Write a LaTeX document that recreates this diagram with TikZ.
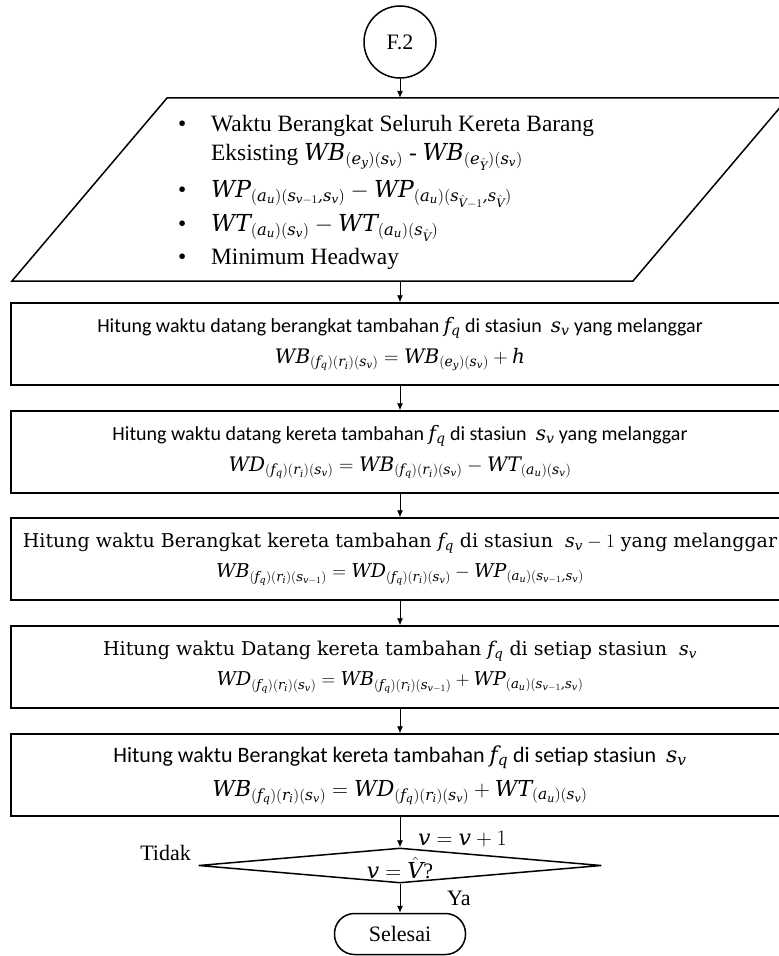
\RequirePackage{fix-cm}
\documentclass[tikz,border=0pt]{standalone}
\usepackage{fontspec}
\setmainfont{Liberation Serif}
\newfontfamily\calibri{Carlito}
\newfontfamily\slabserif{DejaVu Serif}
% italic math letters taken from an OpenType serif
\newfontfamily\mathletterfont{DejaVu Serif}[NFSSFamily=mletters]
\DeclareSymbolFont{letters}{TU}{mletters}{m}{it}
\mathcode`\,="612C
\usetikzlibrary{shapes.geometric,arrows.meta}

\tikzset{
  flow/.style={line width=0.9bp,-{Latex[length=7bp,width=6bp]}},
  edge/.style={line width=1.5bp},
  procbox/.style={draw, edge, minimum width=778bp, minimum height=82bp,
    inner sep=0pt, align=center, font=\calibri\fontsize{20bp}{26bp}\selectfont},
  bigbox/.style={procbox, font=\calibri\fontsize{22bp}{28bp}\selectfont},
  serifbox/.style={procbox, font=\slabserif\fontsize{19bp}{25bp}\selectfont},
  listline/.style={anchor=base west, inner sep=0pt, font=\fontsize{23.4bp}{28bp}\selectfont},
  plain/.style={inner sep=0pt, font=\fontsize{22bp}{26bp}\selectfont}
}

\begin{document}
\begin{tikzpicture}[x=1bp,y=-1bp]
\useasboundingbox (0,0) rectangle (779,956);

% start connector
\node[draw, edge, circle, minimum size=72bp, inner sep=0pt, plain] (start) at (400,42) {F.2};

% input parallelogram
\node[minimum width=776bp, minimum height=183bp, inner sep=0pt] (input) at (400,189.5) {};
\draw[edge] (input.south west) -- ++(621,0) -- (input.north east) -- ++(-621,0) -- cycle;

\node[listline] (l1) at (178,131) {\makebox[33bp][l]{\textbullet}Waktu Berangkat Seluruh Kereta Barang};
\node[listline] (l2) at (211,160) {Eksisting $WB_{(e_y)(s_v)}$ - $WB_{(e_{\hat{Y}})(s_v)}$};
\node[listline] (l3) at (178,197) {\makebox[33bp][l]{\textbullet}$WP_{(a_u)(s_{v-1},s_v)} - WP_{(a_u)(s_{\hat{V}-1},s_{\hat{V}})}$};
\node[listline] (l4) at (178,231) {\makebox[33bp][l]{\textbullet}$WT_{(a_u)(s_v)} - WT_{(a_u)(s_{\hat{V}})}$};
\node[listline] (l5) at (178,264) {\makebox[33bp][l]{\textbullet}Minimum Headway};

% process steps
\node[procbox] (p1) at (400,344) {Hitung waktu datang berangkat tambahan $f_q$ di stasiun\ \ $s_v$ yang melanggar\\[5bp]
  $WB_{(f_q)(r_i)(s_v)} = WB_{(e_y)(s_v)} + h$};
\node[procbox] (p2) at (400,452) {Hitung waktu datang kereta tambahan $f_q$ di stasiun\ \ $s_v$ yang melanggar\\[5bp]
  $WD_{(f_q)(r_i)(s_v)} = WB_{(f_q)(r_i)(s_v)} - WT_{(a_u)(s_v)}$};
\node[serifbox] (p3) at (400,559) {Hitung waktu Berangkat kereta tambahan $f_q$ di stasiun\ \ $s_v - 1$ yang melanggar\\[5bp]
  $WB_{(f_q)(r_i)(s_{v-1})} = WD_{(f_q)(r_i)(s_v)} - WP_{(a_u)(s_{v-1},s_v)}$};
\node[serifbox] (p4) at (400,667) {Hitung waktu Datang kereta tambahan $f_q$ di setiap stasiun\ \ $s_v$\\[5bp]
  $WD_{(f_q)(r_i)(s_v)} = WB_{(f_q)(r_i)(s_{v-1})} + WP_{(a_u)(s_{v-1},s_v)}$};
\node[bigbox] (p5) at (400,775) {Hitung waktu Berangkat kereta tambahan $f_q$ di setiap stasiun\ \ $s_v$\\[6bp]
  $WB_{(f_q)(r_i)(s_v)} = WD_{(f_q)(r_i)(s_v)} + WT_{(a_u)(s_v)}$};

% decision and end
\node[draw, edge, diamond, aspect=11.5, minimum width=403bp, minimum height=35bp, inner sep=0pt, plain]
  (dec) at (400,865.5) {};
\node[plain] (cond) at (400,868) {$v = \hat{V}$?};
\node[draw, edge, rounded corners=20bp, minimum width=131bp, minimum height=41bp, inner sep=0pt, plain]
  (stop) at (400,934) {Selesai};

\node[plain, anchor=base west] (inc) at (418,845) {$v = v + 1$};
\node[plain, anchor=base east] (no) at (191,860) {Tidak};
\node[plain, anchor=base west] (yes) at (447,905) {Ya};

% connectors
\draw[flow] (start) -- (input.north);
\draw[flow] (input.south) -- (p1);
\draw[flow] (p1) -- (p2);
\draw[flow] (p2) -- (p3);
\draw[flow] (p3) -- (p4);
\draw[flow] (p4) -- (p5);
\draw[flow] (p5) -- (dec);
\draw[flow] (dec) -- (stop);
\end{tikzpicture}
\end{document}
